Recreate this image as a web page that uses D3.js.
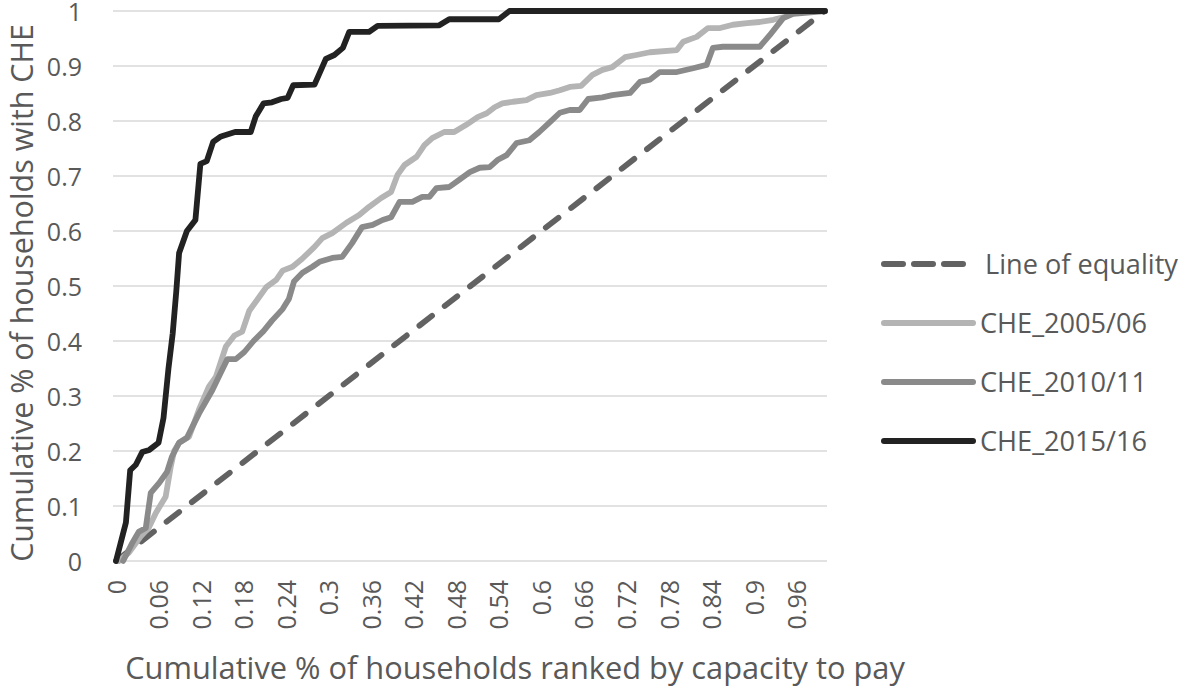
<!DOCTYPE html>
<html>
<head>
<meta charset="utf-8">
<script src="https://cdn.jsdelivr.net/npm/d3@7"></script>
<style>
  html, body { margin: 0; padding: 0; background: #fff; }
  svg { display: block; }
  text { font-family: "Open Sans", Lato, sans-serif; fill: #595959; }
</style>
</head>
<body>
<svg id="chart" width="1181" height="688"></svg>
<script>
// ---- data ----
const seriesNames = ["Line of equality", "CHE_2005/06", "CHE_2010/11", "CHE_2015/16"];

const equalityX = [0, 1];
const equalityY = [0, 1];

const che0506X = [0.004,0.018,0.035,0.046,0.056,0.07,0.077,0.082,0.089,0.103,0.117,0.131,0.141,0.155,0.167,0.178,0.188,0.202,0.212,0.226,0.235,0.249,0.263,0.28,0.291,0.305,0.325,0.343,0.357,0.374,0.388,0.397,0.407,0.424,0.435,0.446,0.463,0.477,0.494,0.51,0.523,0.534,0.545,0.56,0.579,0.593,0.612,0.626,0.64,0.656,0.672,0.686,0.7,0.718,0.734,0.753,0.791,0.8,0.819,0.835,0.852,0.87,0.89,0.908,0.927,0.945,0.96,1];
const che0506Y = [0,0.015,0.045,0.06,0.087,0.117,0.17,0.2,0.215,0.226,0.275,0.317,0.335,0.39,0.41,0.417,0.455,0.48,0.498,0.511,0.528,0.535,0.55,0.571,0.587,0.596,0.615,0.629,0.644,0.66,0.671,0.702,0.72,0.735,0.756,0.769,0.78,0.78,0.793,0.807,0.814,0.825,0.832,0.835,0.838,0.847,0.851,0.856,0.862,0.864,0.884,0.893,0.898,0.916,0.92,0.925,0.929,0.944,0.953,0.969,0.969,0.975,0.978,0.98,0.984,0.99,1,1];

const che1011X = [0.01,0.023,0.032,0.042,0.049,0.061,0.072,0.079,0.089,0.1,0.117,0.136,0.145,0.157,0.169,0.181,0.194,0.208,0.22,0.235,0.244,0.251,0.263,0.277,0.287,0.305,0.319,0.333,0.347,0.362,0.376,0.388,0.4,0.418,0.432,0.442,0.452,0.47,0.484,0.499,0.513,0.527,0.538,0.551,0.565,0.583,0.597,0.612,0.626,0.64,0.654,0.666,0.686,0.7,0.725,0.739,0.753,0.767,0.791,0.814,0.833,0.842,0.856,0.908,0.922,0.941,0.955,1];
const che1011Y = [0,0.033,0.053,0.06,0.124,0.142,0.162,0.19,0.215,0.224,0.268,0.311,0.335,0.367,0.367,0.38,0.4,0.418,0.437,0.458,0.477,0.508,0.524,0.535,0.544,0.551,0.553,0.578,0.607,0.611,0.62,0.625,0.653,0.653,0.662,0.662,0.678,0.68,0.693,0.707,0.715,0.716,0.729,0.738,0.76,0.765,0.78,0.798,0.815,0.82,0.82,0.84,0.843,0.847,0.851,0.871,0.875,0.889,0.889,0.896,0.902,0.933,0.935,0.935,0.956,0.987,0.995,1];

const che1516X = [0,0.01,0.014,0.02,0.028,0.037,0.047,0.06,0.067,0.074,0.08,0.085,0.089,0.1,0.112,0.119,0.128,0.137,0.148,0.168,0.19,0.197,0.208,0.22,0.233,0.242,0.25,0.28,0.296,0.308,0.32,0.329,0.357,0.369,0.456,0.47,0.54,0.555,1];
const che1516Y = [0,0.05,0.07,0.165,0.175,0.198,0.202,0.215,0.26,0.35,0.414,0.49,0.56,0.6,0.62,0.722,0.727,0.762,0.772,0.78,0.78,0.808,0.832,0.834,0.84,0.842,0.865,0.866,0.913,0.92,0.933,0.962,0.962,0.973,0.974,0.985,0.985,1,1];

const xTickValues = [0,0.06,0.12,0.18,0.24,0.3,0.36,0.42,0.48,0.54,0.6,0.66,0.72,0.78,0.84,0.9,0.96];
const yTickValues = [0,0.1,0.2,0.3,0.4,0.5,0.6,0.7,0.8,0.9,1];

// ---- build ----
const series = [
  {name: seriesNames[0], xs: equalityX, ys: equalityY, color: "#626262", dash: "16 16"},
  {name: seriesNames[1], xs: che0506X, ys: che0506Y, color: "#b4b4b4", dash: null},
  {name: seriesNames[2], xs: che1011X, ys: che1011Y, color: "#8a8a8a", dash: null},
  {name: seriesNames[3], xs: che1516X, ys: che1516Y, color: "#222222", dash: null}
];

const FONT = "'Open Sans', Lato, sans-serif";
const svg = d3.select("#chart");
const x = d3.scaleLinear().domain([0, 1]).range([116, 825]);
const y = d3.scaleLinear().domain([0, 1]).range([561, 11]);

// gridlines
svg.append("g").selectAll("line").data(yTickValues).join("line")
  .attr("x1", x(0) - 3).attr("x2", x(1) + 2)
  .attr("y1", d => y(d)).attr("y2", d => y(d))
  .attr("stroke", "#d9d9d9").attr("stroke-width", 1.6);

// y axis labels
const yAxis = d3.axisLeft(y).tickValues(yTickValues).tickSize(0).tickPadding(0)
  .tickFormat(d => d3.format("")(+d.toFixed(1)));
const gy = svg.append("g").attr("transform", `translate(82,0)`).call(yAxis);
gy.select(".domain").remove();
gy.selectAll("text").attr("font-size", 25).attr("fill", "#595959")
  .style("font-family", FONT).attr("dy", "0.36em").attr("x", 0);

// x axis labels (rotated)
const xAxis = d3.axisBottom(x).tickValues(xTickValues).tickSize(0).tickPadding(0)
  .tickFormat(d => d3.format("")(+d.toFixed(2)));
const gx = svg.append("g").attr("transform", `translate(0,580)`).call(xAxis);
gx.select(".domain").remove();
gx.selectAll("text").attr("font-size", 25).attr("fill", "#595959")
  .style("font-family", FONT)
  .attr("transform", "rotate(-90)").attr("text-anchor", "end")
  .attr("x", 0).attr("y", 0).attr("dy", "0.36em");

// lines
const line = d3.line().x(d => x(d[0])).y(d => y(d[1]));
series.forEach(s => {
  const pts = s.xs.map((v, i) => [v, s.ys[i]]);
  svg.append("path").datum(pts)
    .attr("d", line)
    .attr("fill", "none")
    .attr("stroke", s.color)
    .attr("stroke-width", 5.8)
    .attr("stroke-linejoin", "round")
    .attr("stroke-linecap", "round")
    .attr("stroke-dasharray", s.dash);
});

// titles
function fit(sel, target) {
  const w = sel.node().getComputedTextLength();
  const fs = parseFloat(sel.attr("font-size"));
  const nfs = fs * target / w;
  sel.attr("font-size", nfs);
  return nfs;
}
const xt = svg.append("text").attr("x", 515).attr("y", 679).attr("text-anchor", "middle")
  .attr("font-size", 27).text("Cumulative % of households ranked by capacity to pay");
fit(xt, 780);
const yt = svg.append("text").attr("transform", "translate(33,293) rotate(-90)")
  .attr("text-anchor", "middle").attr("font-size", 27)
  .text("Cumulative % of households with CHE");
fit(yt, 538);

// legend
const legend = svg.append("g");
let legendFs = 25;
series.forEach((s, i) => {
  const ly = 264 + i * 59;
  legend.append("line").attr("x1", 884).attr("x2", 973).attr("y1", ly).attr("y2", ly)
    .attr("stroke", s.color).attr("stroke-width", 6).attr("stroke-linecap", "round")
    .attr("stroke-dasharray", s.dash ? "19 11" : null);
  const t = legend.append("text").attr("x", i === 0 ? 985 : 980).attr("y", ly).attr("dy", "0.36em")
    .attr("font-size", legendFs).text(s.name);
  if (i === 0) legendFs = fit(t, 193);
  else t.attr("font-size", legendFs);
});
</script>
</body>
</html>
